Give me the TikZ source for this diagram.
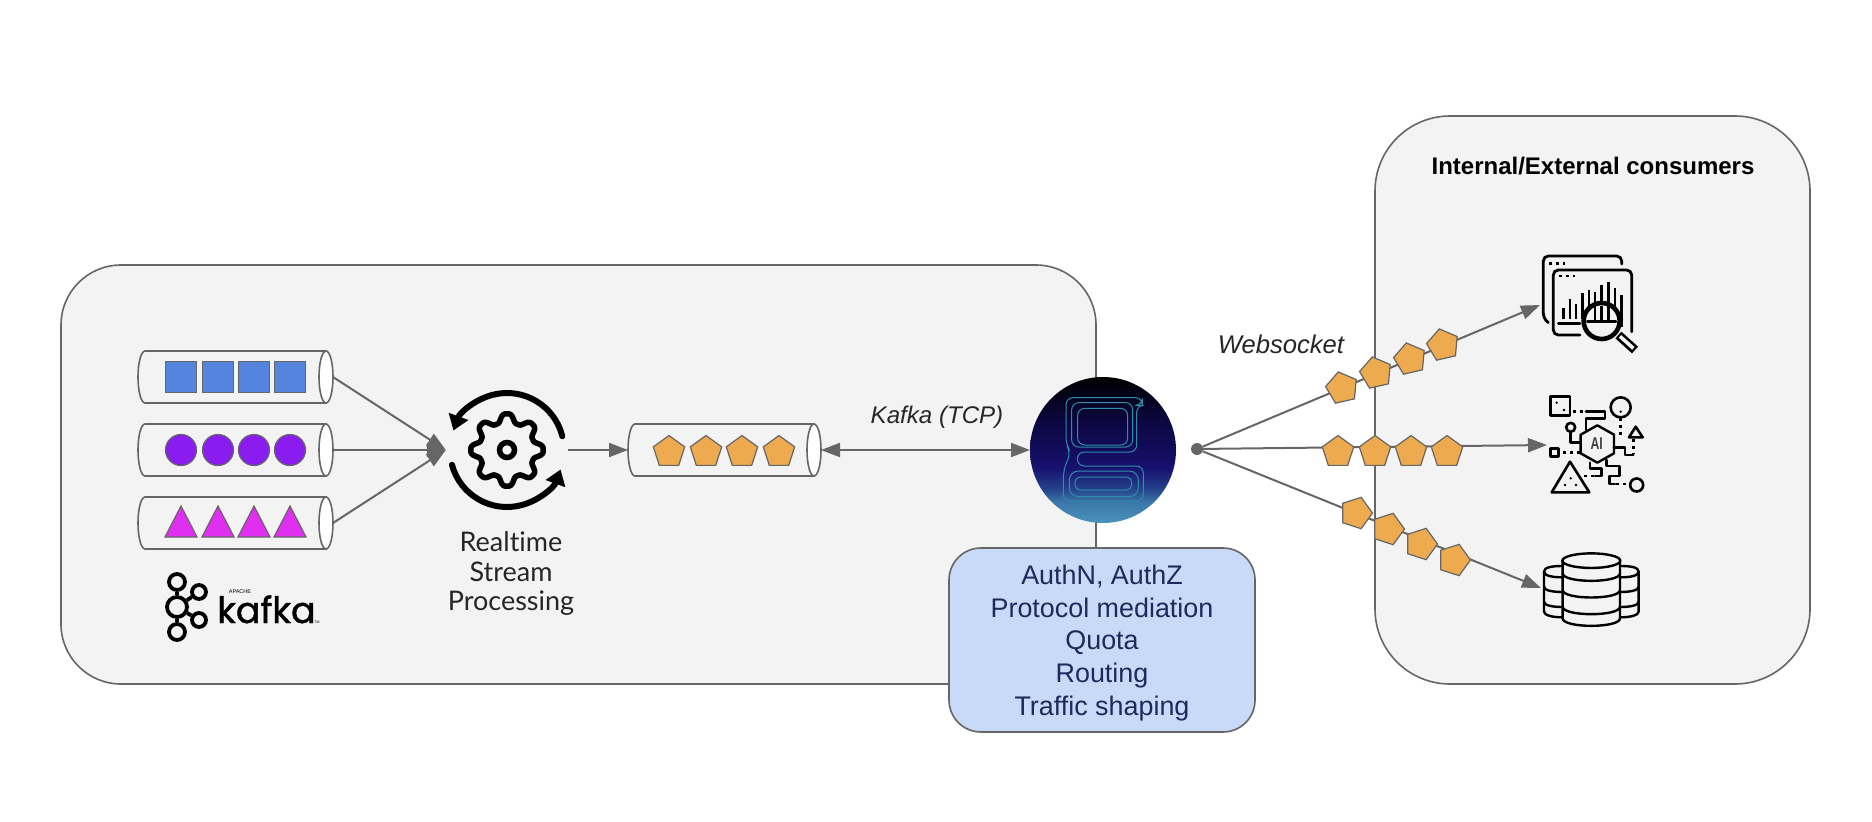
\documentclass[tikz,border=0pt]{standalone}
\usepackage{fontspec}
\setmainfont{Liberation Sans}
\newfontfamily\latofont[Ligatures=NoCommon]{Lato}
\newfontfamily\popfont[FakeBold=1.2]{Poppins}
\usetikzlibrary{shapes.geometric,arrows.meta}
\definecolor{edge}{HTML}{666666}
\definecolor{panelfill}{HTML}{F3F3F3}
\definecolor{boxfill}{HTML}{C9DAF8}
\definecolor{boxtext}{HTML}{1F2A5C}
\definecolor{orng}{HTML}{EDAA4F}
\definecolor{bluesq}{HTML}{5484DE}
\definecolor{purp}{HTML}{8A1CF0}
\definecolor{magn}{HTML}{E02FF0}
\definecolor{gteal}{HTML}{2F8DA8}
\definecolor{gb1}{HTML}{4A93BC}
\definecolor{gb2}{HTML}{3B78AA}
\definecolor{gb4}{HTML}{24408A}
\definecolor{gb3}{HTML}{17106E}
\definecolor{gb5}{HTML}{0C0740}
\pgfdeclareverticalshading{gcirc}{100bp}{
 color(0bp)=(gb1); color(25bp)=(gb1); color(32bp)=(gb2); color(37bp)=(gb4); color(44bp)=(gb3); color(60bp)=(gb5); color(75bp)=(black); color(100bp)=(black)}
\pgfdeclarelayer{panel}
\pgfdeclarelayer{wirelayer}
\pgfsetlayers{panel,wirelayer,main}
\tikzset{
 panelbox/.style={draw=edge,line width=1.6pt,fill=panelfill,inner sep=0pt,outer sep=0pt},
 bluebox/.style={draw=edge,line width=1.6pt,fill=boxfill,rounded corners=32pt,inner sep=0pt,outer sep=0pt,minimum width=306pt,minimum height=184pt},
 bluetext/.style={text=boxtext,inner sep=0pt,align=center,font=\fontsize{26.9}{32.6}\selectfont},
 queue/.style={rectangle,minimum height=52pt,inner sep=0pt,outer sep=0pt},
 qline/.style={draw=edge,line width=1.6pt},
 wire/.style={draw=edge,line width=2pt,-{Triangle[length=19pt,width=14pt]}},
 penta/.style={regular polygon,regular polygon sides=5,draw=edge,line width=1.2pt,fill=orng,minimum size=33pt,inner sep=0pt,outer sep=0pt},
 sq/.style={rectangle,draw=edge,line width=1.4pt,fill=bluesq,minimum size=31pt,inner sep=0pt,outer sep=0pt},
 circ/.style={circle,draw=edge,line width=1.2pt,fill=purp,minimum size=31pt,inner sep=0pt,outer sep=0pt},
 tri/.style={draw=edge,line width=1.2pt,fill=magn},
 icon/.style={draw=black,line width=2.8pt,line cap=round,line join=round},
 dots/.style={draw=black,line width=2.6pt,dash pattern=on 3pt off 4pt},
 glyph/.style={draw=gteal,line width=1pt,rounded corners=7pt},
 lbl/.style={text=black!85,inner sep=0pt},
}
\newcommand{\qbody}[1]{%
 \draw[qline,fill=panelfill] ([xshift=7pt]#1.north west) arc[start angle=90,end angle=270,x radius=7pt,y radius=26pt] -- ([xshift=-7pt]#1.south east) -- ([xshift=-7pt]#1.north east) -- cycle;
 \draw[qline,fill=white] ([xshift=-7pt]#1.east) ellipse [x radius=7pt,y radius=26pt];
}
\begin{document}
\begin{tikzpicture}[x=1pt,y=-1pt]
\useasboundingbox (0,0) rectangle (1872,822);
\begin{pgfonlayer}{panel}
\fill[white] (0,0) rectangle (1872,822);
\node[panelbox,rounded corners=60pt,minimum width=1035pt,minimum height=419pt] (left) at (578.5,474.5) {};
\node[panelbox,rounded corners=75pt,minimum width=435pt,minimum height=568pt] (right) at (1592.5,400) {};
\end{pgfonlayer}

% queues
\node[queue,minimum width=195pt] (q1) at (235.5,377) {};
\node[queue,minimum width=195pt] (q2) at (235.5,450) {};
\node[queue,minimum width=195pt] (q3) at (235.5,523) {};
\node[queue,minimum width=193pt] (q4) at (724.5,450) {};
\qbody{q1}\qbody{q2}\qbody{q3}\qbody{q4}
\foreach \n/\x in {1/181,2/218,3/254,4/290}{
 \node[sq] (s\n) at (\x,377) {};
 \node[circ] (c\n) at (\x,450) {};
 \draw[tri] (\x-16,537) -- (\x,506) -- (\x+16,537) -- cycle;
}
\foreach \n/\x in {1/669,2/706,3/742,4/779}{\node[penta] (k\n) at (\x,452) {};}

% kafka logo
\node[inner sep=0pt,anchor=base west,font=\popfont\fontsize{36.3}{39}\selectfont,text=black] (kafkaword) at (217,623) {kafka};
\node[inner sep=0pt,font=\fontsize{5.5}{6}\selectfont] (apache) at (240,592) {APACHE};
\node[inner sep=0pt,font=\fontsize{3.5}{4}\selectfont] (tm) at (317,622) {TM};
\node[circle,draw=black,line width=3.8pt,minimum size=16pt,inner sep=0pt] (kt) at (177,582) {};
\node[circle,draw=black,line width=3.8pt,minimum size=20pt,inner sep=0pt] (km) at (177,607) {};
\node[circle,draw=black,line width=3.8pt,minimum size=16pt,inner sep=0pt] (kb) at (177,632) {};
\node[circle,draw=black,line width=3.8pt,minimum size=14pt,inner sep=0pt] (kr) at (199,592) {};
\node[circle,draw=black,line width=3.8pt,minimum size=14pt,inner sep=0pt] (ks) at (199,620) {};
\draw[line width=3.8pt] (kt) -- (km); \draw[line width=3.8pt] (km) -- (kb);
\draw[line width=3.8pt] (km) -- (kr); \draw[line width=3.8pt] (km) -- (ks);

% gear icon
\node[inner sep=0pt,minimum size=122pt,circle] (gear) at (507,450) {};
\begin{scope}[shift={(507,450)},x=1pt,y=1pt]
 \draw[line width=5.5pt,line join=round] plot[domain=0:358,samples=180,smooth cycle] ({(32+4.2*cos(8*\x)*(1.5-0.5*cos(8*\x)*cos(8*\x)))*cos(\x)},{(32+4.2*cos(8*\x)*(1.5-0.5*cos(8*\x)*cos(8*\x)))*sin(\x)});
 \draw[line width=5.5pt] (0,0) circle (7.5pt);
 \draw[line width=6pt,line cap=round,-{Triangle[length=15pt,width=20pt]}] (14:57pt) arc (14:160:57pt);
 \draw[line width=6pt,line cap=round,-{Triangle[length=15pt,width=20pt]}] (195:57pt) arc (195:340:57pt);
\end{scope}
\node[align=center,inner sep=0pt,text=black!85,font=\latofont\fontsize{27}{29.5}\selectfont] (rsp) at (511,574) {Realtime\\Stream\\Processing};

% g circle
\node[circle,shade,shading=gcirc,minimum size=146pt,inner sep=0pt,outer sep=0pt] (g) at (1103,450) {};
\begin{scope}[shift={(1030,376)},x=0.33333pt,y=-0.33333pt]
 \draw[glyph] (337,65) -- (108,65) -- (108,205) -- (122,228) -- (100,285) -- (100,375) -- (340,375) -- (340,270) -- (142,270) -- (142,228) -- (320,228) -- (320,88) -- (337,88) -- cycle;
 \draw[glyph] (125,80) rectangle (308,213);
 \draw[glyph] (143,97) rectangle (293,207);
 \draw[glyph,rounded corners=9pt] (118,285) rectangle (325,362);
 \draw[glyph,rounded corners=5pt] (135,303) rectangle (305,342);
\end{scope}

% labels
\node[lbl,font=\itshape\fontsize{24.1}{28}\selectfont] (kafkatcp) at (937,417) {Kafka (TCP)};
\node[lbl,font=\itshape\fontsize{25.6}{28}\selectfont] (ws) at (1281,344) {Websocket};
\node[inner sep=0pt,font=\bfseries\fontsize{24}{26}\selectfont] (title) at (1593,166) {Internal/External consumers};
\node[bluebox] (auth) at (1102,640) {};
\node[bluetext] (authtext) at (1102,643) {AuthN, AuthZ\\Protocol mediation\\Quota\\Routing\\Traffic shaping};

% hub
\node[circle,fill=edge,minimum size=12pt,inner sep=0pt] (hub) at (1197,449) {};
\coordinate (tipA) at (1540,305);
\coordinate (tipB) at (1547,445);
\coordinate (tipC) at (1541,588);
\foreach \n/\x/\y in {1/1342/388,2/1376/373,3/1410/359,4/1443/345}{\node[penta,rotate=13] (a\n) at (\x,\y) {};}
\foreach \n/\x/\y in {1/1338/452,2/1375/452,3/1411/452,4/1447/452}{\node[penta] (b\n) at (\x,\y) {};}
\foreach \n/\x/\y in {1/1356/513,2/1388/529,3/1421/544,4/1454/560}{\node[penta,rotate=-18] (d\n) at (\x,\y) {};}

% connectors
\begin{pgfonlayer}{wirelayer}
\draw[wire] (q1.east) -- (gear.west);
\draw[wire] (q2.east) -- (gear.west);
\draw[wire] (q3.east) -- (gear.west);
\draw[wire] (gear.east) -- (q4.west);
\draw[wire,{Triangle[length=19pt,width=14pt]}-{Triangle[length=19pt,width=14pt]}] (q4.east) -- (g.west);
\draw[wire] (hub) -- (tipA);
\draw[wire] (hub) -- (tipB);
\draw[wire] (hub) -- (tipC);
\end{pgfonlayer}

% dashboard icon
\begin{scope}[shift={(1520,240)},x=0.33333pt,y=-0.33333pt]
 \draw[icon,rounded corners=5pt] (305,72) -- (305,48) -- (70,48) -- (70,235) -- (85,248);
 \draw[icon,rounded corners=5pt] (180,285) -- (100,285) -- (100,90) -- (335,90) -- (335,275);
 \draw[dots] (88,71) -- (136,71);
 \draw[dots] (116,108) -- (164,108);
 \foreach \x/\t in {130/205,150/178,168/192,188/160,207/150,225/155,245/135,265/125,285/145,305/165}{\draw[icon,line width=2.6pt,line cap=butt] (\x,\t) -- (\x,238);}
 \draw[icon,line width=2.6pt,line cap=butt] (305,165) -- (305,262);
 \draw[icon,line width=2.6pt] (115,250) -- (180,250);
 \draw[icon,line width=9pt,line cap=butt] (295,285) -- (345,330);
 \draw[draw=panelfill,line width=3.6pt] (300,289) -- (340,325);
 \draw[icon,line width=4.6pt,fill=panelfill] (245,243) circle (18pt);
 \foreach \x in {225,245,265}{\draw[icon,line width=2.6pt,line cap=butt] (\x,198) -- (\x,243);}
 \draw[icon,line width=2.6pt] (202,245) -- (288,245);
\end{scope}

% AI and database icons
\begin{scope}[shift={(1290,230)},x=0.33333pt,y=-0.33333pt]
 \draw[icon,line width=2.4pt] (922,586) -- (972,614) -- (972,670) -- (922,698) -- (872,670) -- (872,614) -- cycle;
 \node[inner sep=0pt,font=\bfseries\fontsize{17}{18}\selectfont,text=black!75,xscale=.72] (ai) at (920,642) {AI};
 \draw[icon,line width=2.6pt] (781,500) rectangle (840,556);
 \draw[icon,line width=2.6pt] (992,532) circle (10pt);
 \draw[icon,line width=2.6pt] (842,592) circle (4.5pt);
 \draw[icon,line width=2.6pt] (1037,590) -- (1058,622) -- (1017,622) -- cycle;
 \draw[icon,line width=2.6pt] (781,655) rectangle (806,680);
 \draw[icon,line width=2.6pt] (840,695) -- (898,787) -- (785,787) -- cycle;
 \draw[icon,line width=2.6pt] (1040,765) circle (6.5pt);
 \draw[icon,line width=2.6pt] (888,545) -- (945,545) -- (945,565) -- (888,565) -- (888,600);
 \draw[icon,line width=2.6pt] (972,652) -- (1005,652) -- (1005,675) -- (1030,675);
 \draw[icon,line width=2.6pt] (900,698) -- (900,715) -- (935,715) -- (935,738) -- (915,738);
 \draw[icon,line width=2.6pt] (950,690) -- (950,708) -- (988,708) -- (988,738) -- (958,738) -- (958,762) -- (975,762);
 \draw[icon,line width=2.6pt] (842,610) -- (842,638) -- (872,638);
 \draw[dots] (850,545) -- (885,545);
 \draw[dots] (992,564) -- (992,625);
 \draw[dots] (1030,628) -- (1030,672);
 \draw[dots] (820,667) -- (872,667);
 \draw[dots] (882,738) -- (915,738);
 \draw[dots] (978,762) -- (1012,762);
 \fill (800,518) circle (1.3pt) (822,540) circle (1.3pt) (842,745) circle (1.3pt) (825,765) circle (1.3pt) (858,765) circle (1.3pt) (992,545) circle (1.3pt);
 % database
 \draw[icon,line width=2.4pt] (904,992) ellipse [x radius=29pt,y radius=7.3pt];
 \draw[icon,line width=2.4pt] (818,992) -- (818,1165) .. controls (818,1195) and (990,1195) .. (990,1165) -- (990,992);
 \foreach \y in {1030,1080,1130}{\draw[icon,line width=2.4pt] (818,\y) .. controls (818,\y+30) and (990,\y+30) .. (990,\y);}
 \draw[icon,line width=2.4pt] (818,1008) .. controls (785,1008) and (762,1012) .. (762,1025) -- (762,1145) .. controls (762,1155) and (785,1162) .. (818,1162);
 \draw[icon,line width=2.4pt] (762,1025) .. controls (762,1038) and (790,1042) .. (818,1042);
 \draw[icon,line width=2.4pt] (762,1070) .. controls (762,1082) and (790,1086) .. (818,1086);
 \draw[icon,line width=2.4pt] (762,1115) .. controls (762,1127) and (790,1131) .. (818,1131);
 \draw[icon,line width=2.4pt] (990,1008) .. controls (1023,1008) and (1046,1012) .. (1046,1025) -- (1046,1145) .. controls (1046,1155) and (1023,1162) .. (990,1162);
 \draw[icon,line width=2.4pt] (1046,1025) .. controls (1046,1038) and (1018,1042) .. (990,1042);
 \draw[icon,line width=2.4pt] (1046,1070) .. controls (1046,1082) and (1018,1086) .. (990,1086);
 \draw[icon,line width=2.4pt] (1046,1115) .. controls (1046,1127) and (1018,1131) .. (990,1131);
\end{scope}
\end{tikzpicture}
\end{document}
